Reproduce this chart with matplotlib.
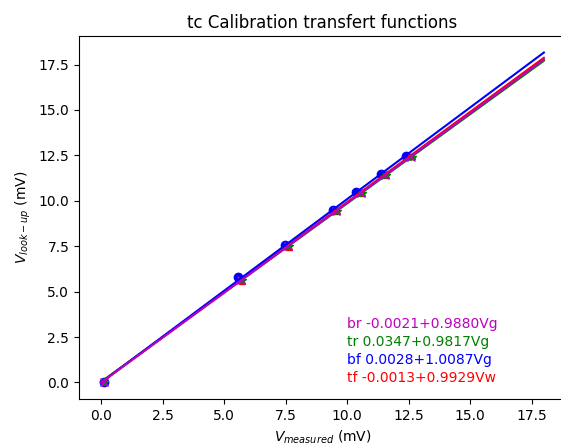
import numpy as np
import matplotlib
matplotlib.use("Agg")
import matplotlib.pyplot as plt

# measured points (mV)
x_bf = [0.1, 5.55, 7.48, 9.44, 10.37, 11.37, 12.4]
y_bf = [0.0, 5.8, 7.54, 9.47, 10.47, 11.45, 12.49]
x_tr = [0.12, 5.72, 7.62, 9.58, 10.6, 11.6, 12.62]
y_tr = [0.05, 5.65, 7.52, 9.43, 10.44, 11.43, 12.42]
x_tf = [0.12, 5.72, 7.62, 9.58, 10.6, 11.6, 12.62]
y_tf = [0.0, 5.6, 7.48, 9.42, 10.42, 11.42, 12.44]
x_br = [0.1, 5.7, 7.6, 9.55, 10.55, 11.55, 12.58]
y_br = [0.0, 5.63, 7.51, 9.43, 10.42, 11.41, 12.43]

# fit coefficients (offset, slope)
fits = {
    "br": (-0.0021, 0.9880, "Vg", "m"),
    "tr": (0.0347, 0.9817, "Vg", "g"),
    "bf": (0.0028, 1.0087, "Vg", "b"),
    "tf": (-0.0013, 0.9929, "Vw", "r"),
}

fig = plt.figure(figsize=(5.61, 4.47), dpi=100)
# right edge of the axes falls just outside the canvas, like the original
ax = fig.add_axes([0.1408, 0.1074, 0.88, 0.812])

ax.plot(x_bf, y_bf, "bo")
ax.plot(x_tf, y_tf, "r^", ms=5)
ax.plot(x_tr, y_tr, "g*")
ax.plot(x_br, y_br, "mx")

xx = np.linspace(0, 18, 2)
for name in ["tf", "tr", "bf", "br"]:
    a, b, v, c = fits[name]
    ax.plot(xx, a + b * xx, color=c)

for i, name in enumerate(["br", "tr", "bf", "tf"]):
    a, b, v, c = fits[name]
    ax.text(10, 3 - i, f"{name} {a:.4f}+{b:.4f}{v}", color=c)

ax.set_xlim(-0.9, 19.17)
ax.set_title("tc Calibration transfert functions", x=0.493)
ax.set_xlabel("$V_{measured}$ (mV)", x=0.493)
ax.set_ylabel("$V_{look-up}$ (mV)")

fig.savefig("out.png", dpi=100)
